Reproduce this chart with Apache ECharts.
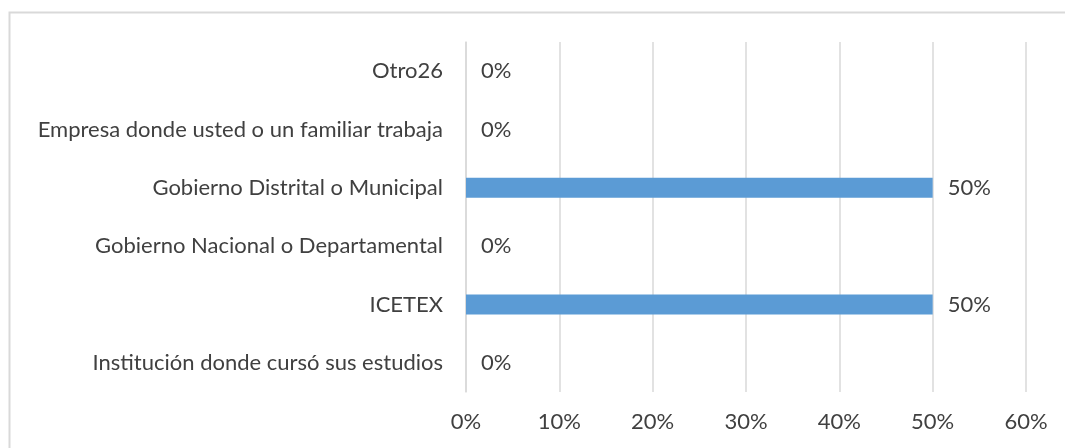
<!DOCTYPE html>
<html><head><meta charset="utf-8">
<script src="https://cdn.jsdelivr.net/npm/echarts@6/dist/echarts.min.js"></script>
<style>html,body{margin:0;padding:0;background:#fff}#c{width:1065px;height:448px}</style>
</head><body><div id="c"></div>
<script>
const categories = ["Institución donde cursó sus estudios","ICETEX","Gobierno Nacional o Departamental","Gobierno Distrital o Municipal","Empresa donde usted o un familiar trabaja","Otro26"];
const values = [0, 50, 0, 50, 0, 0];
const xTicks = {min: 0, max: 60, interval: 10};
const font = "Lato, 'Open Sans', sans-serif";
const fs = 22;
const chart = echarts.init(document.getElementById('c'));
chart.setOption({
  animation: false,
  graphic: [{type:'rect', shape:{x:9.5,y:12.5,width:1200,height:600}, style:{fill:'none', stroke:'#d9d9d9', lineWidth:2}}],
  grid: {left: 466, right: 39, top: 42, bottom: 56, containLabel: false},
  xAxis: {type:'value', min:xTicks.min, max:xTicks.max, interval:xTicks.interval,
    axisLine:{show:false}, axisTick:{show:false},
    splitLine:{lineStyle:{color:'#d9d9d9', width:1.5}},
    axisLabel:{formatter:'{value}%', color:'#404040', fontSize:fs, fontFamily:font, margin:19}},
  yAxis: {type:'category', data:categories,
    axisLine:{show:true, lineStyle:{color:'#d9d9d9', width:1.5}}, axisTick:{show:false},
    axisLabel:{color:'#404040', fontSize:fs, fontFamily:font, margin:23}},
  series: [{type:'bar', data:values, barWidth:20, itemStyle:{color:'#5b9bd5'},
    label:{show:true, position:'right', distance:15, formatter:'{c}%', color:'#404040', fontSize:fs, fontFamily:font}}]
});
</script></body></html>
